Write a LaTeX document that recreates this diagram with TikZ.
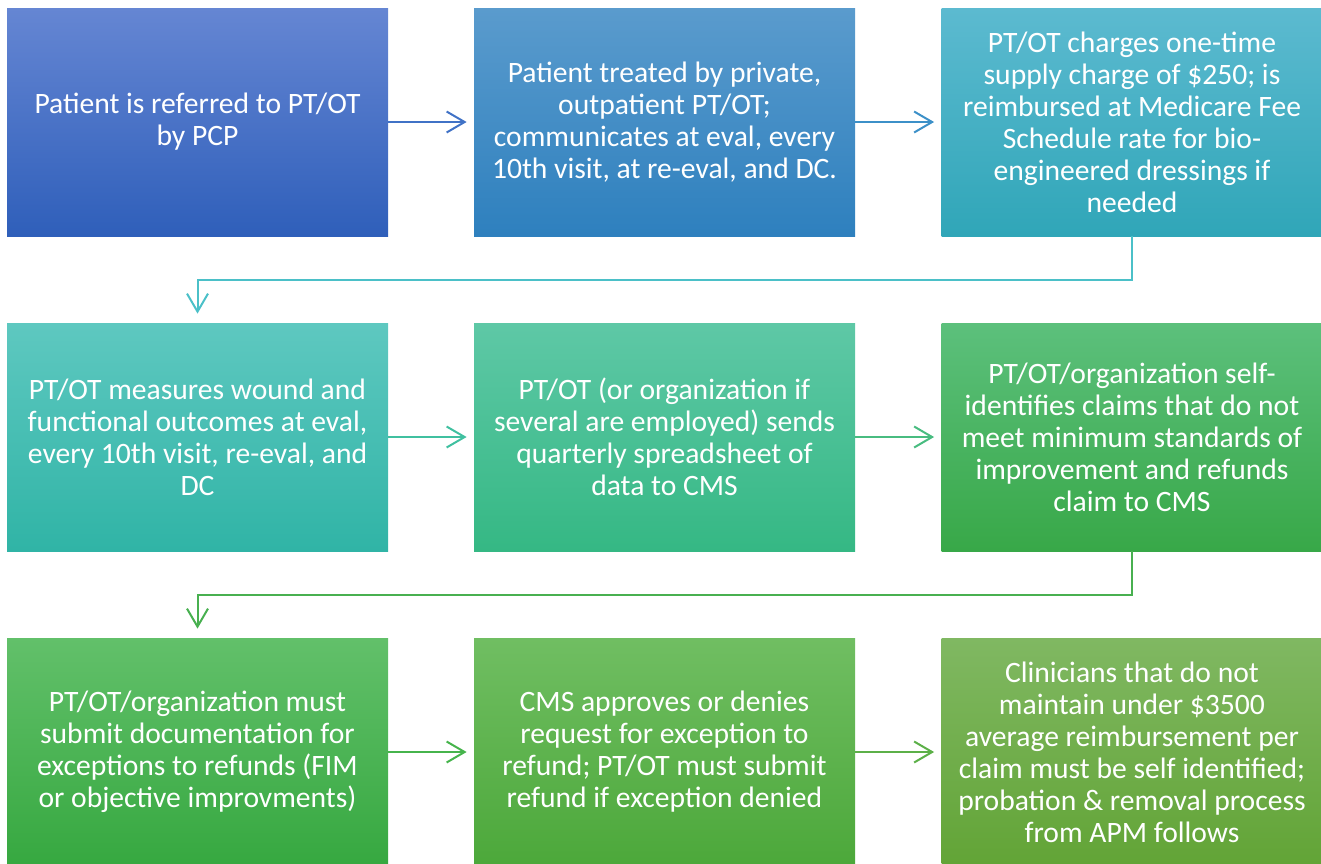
\documentclass[tikz,border=0pt]{standalone}
\usepackage{fontspec}
\setmainfont{Carlito}
\usepackage{tikz}
\usetikzlibrary{positioning,arrows.meta,calc}
\definecolor{boxAt}{HTML}{6586D3}\definecolor{boxAb}{HTML}{2F5FBA}
\definecolor{boxBt}{HTML}{5A9BCD}\definecolor{boxBb}{HTML}{2E80BE}
\definecolor{boxCt}{HTML}{5CBAD0}\definecolor{boxCb}{HTML}{30A6B8}
\definecolor{boxDt}{HTML}{5EC8C0}\definecolor{boxDb}{HTML}{30B4A6}
\definecolor{boxEt}{HTML}{5EC8A6}\definecolor{boxEb}{HTML}{35B884}
\definecolor{boxFt}{HTML}{5CC07C}\definecolor{boxFb}{HTML}{38A848}
\definecolor{boxGt}{HTML}{62C06A}\definecolor{boxGb}{HTML}{36A840}
\definecolor{boxHt}{HTML}{70BE62}\definecolor{boxHb}{HTML}{4CA83A}
\definecolor{boxIt}{HTML}{80B862}\definecolor{boxIb}{HTML}{62A436}
\definecolor{arrA}{HTML}{4072C6}\definecolor{arrB}{HTML}{3C90C8}
\definecolor{arrC}{HTML}{4BC0C8}\definecolor{arrD}{HTML}{40C0A0}
\definecolor{arrE}{HTML}{48BC80}\definecolor{arrF}{HTML}{48B050}
\definecolor{arrG}{HTML}{46B44C}\definecolor{arrH}{HTML}{5CB048}

\begin{document}
\begin{tikzpicture}[x=0.5pt,y=-0.5pt,
    stepbox/.style={minimum width=190.5pt,minimum height=114pt,inner sep=0pt,
      text=white,align=center,font=\fontsize{14.8}{16}\selectfont},
    link/.style={line width=1pt,shorten >=3.5pt,
      -{Straight Barb[length=9pt,width=10.5pt,line width=1pt]}}]
    \useasboundingbox (0,0) rectangle (1321,863);
    \node[stepbox,top color=boxAt,bottom color=boxAb] (ref) at (197.5,122)
        {Patient is referred to PT/OT\\by PCP};
    \node[stepbox,top color=boxBt,bottom color=boxBb] (treat) at (664.5,122)
        {Patient treated by private,\\outpatient PT/OT;\\communicates at eval, every\\10th visit, at re-eval, and DC.};
    \node[stepbox,top color=boxCt,bottom color=boxCb] (supply) at (1132,122)
        {PT/OT charges one-time\\supply charge of \$250; is\\reimbursed at Medicare Fee\\Schedule rate for bio-\\engineered dressings if\\needed};
    \node[stepbox,top color=boxDt,bottom color=boxDb] (measure) at (197.5,437)
        {PT/OT measures wound and\\functional outcomes at eval,\\every 10th visit, re-eval, and\\DC};
    \node[stepbox,top color=boxEt,bottom color=boxEb] (report) at (664.5,437)
        {PT/OT (or organization if\\several are employed) sends\\quarterly spreadsheet of\\data to CMS};
    \node[stepbox,top color=boxFt,bottom color=boxFb] (selfid) at (1132,437)
        {PT/OT/organization self-\\identifies claims that do not\\meet minimum standards of\\improvement and refunds\\claim to CMS};
    \node[stepbox,top color=boxGt,bottom color=boxGb] (except) at (197.5,752)
        {PT/OT/organization must\\submit documentation for\\exceptions to refunds (FIM\\or objective improvments)};
    \node[stepbox,top color=boxHt,bottom color=boxHb] (decide) at (664.5,752)
        {CMS approves or denies\\request for exception to\\refund; PT/OT must submit\\refund if exception denied};
    \node[stepbox,top color=boxIt,bottom color=boxIb] (probation) at (1132,752)
        {Clinicians that do not\\maintain under \$3500\\average reimbursement per\\claim must be self identified;\\probation \& removal process\\from APM follows};
    \coordinate (bendA) at ($(supply.south)!0.5!(supply.south |- measure.north)$);
    \coordinate (bendB) at ($(selfid.south)!0.5!(selfid.south |- except.north)$);
    \draw[link,arrA] (ref) -- (treat);
    \draw[link,arrB] (treat) -- (supply);
    \draw[link,arrC,shorten >=4.5pt] (supply.south) -- (bendA) -| (measure.north);
    \draw[link,arrD] (measure) -- (report);
    \draw[link,arrE] (report) -- (selfid);
    \draw[link,arrF,shorten >=4.5pt] (selfid.south) -- (bendB) -| (except.north);
    \draw[link,arrG] (except) -- (decide);
    \draw[link,arrH] (decide) -- (probation);
\end{tikzpicture}
\end{document}
